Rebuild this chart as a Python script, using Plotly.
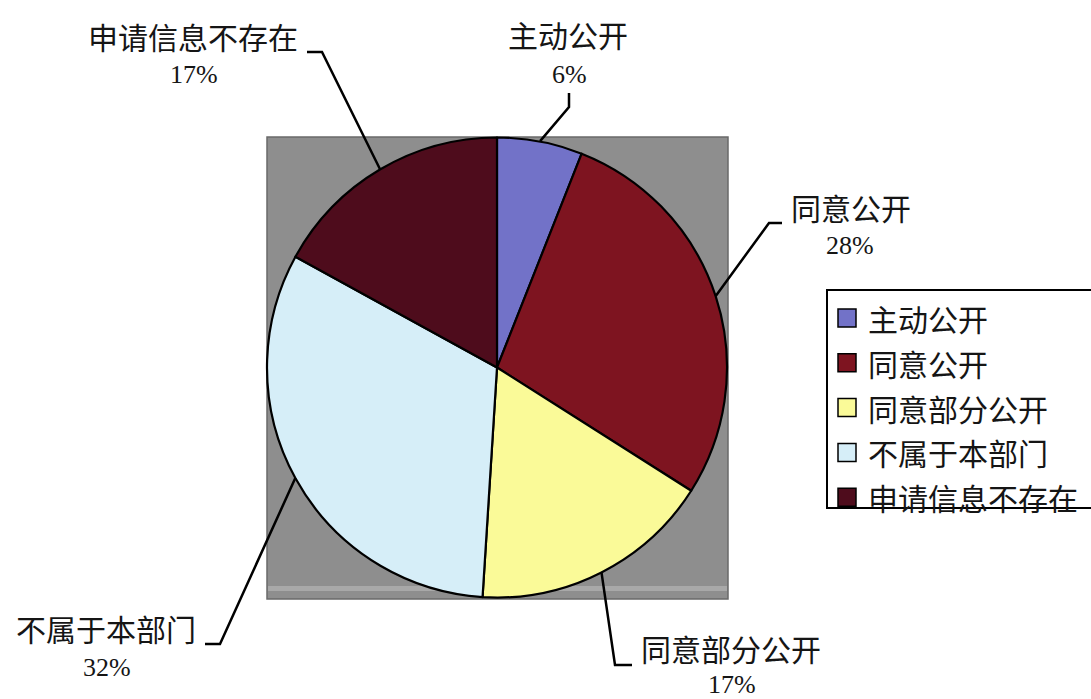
import math
import plotly.graph_objects as go

# ---------------- data ----------------
categories = ["主动公开", "同意公开", "同意部分公开", "不属于本部门", "申请信息不存在"]
values = [6, 28, 17, 32, 17]
colors = ["#7272C8", "#7E1420", "#FAFA98", "#D6EEF8", "#4E0C1C"]

W, H = 1091, 699
CX, CY, R = 497, 367, 230


def px(x):
    return x / W


def py(y):
    return 1 - y / H


fig = go.Figure()
fig.add_trace(go.Pie(
    labels=categories,
    values=values,
    sort=False,
    direction="clockwise",
    rotation=0,
    textinfo="none",
    hoverinfo="label+percent",
    showlegend=False,
    marker=dict(colors=colors, line=dict(color="black", width=2.2)),
    domain=dict(x=[px(CX - R), px(CX + R)], y=[py(CY + R + 1), py(CY - R)]),
))

shapes = []
# gray plot area behind the pie
shapes.append(dict(type="rect", xref="paper", yref="paper", layer="below",
                   x0=px(267), x1=px(728), y0=py(599), y1=py(137),
                   fillcolor="#8E8E8E", line=dict(color="#6A6A6A", width=1.5)))
shapes.append(dict(type="rect", xref="paper", yref="paper", layer="below",
                   x0=px(268), x1=px(727), y0=py(591), y1=py(586),
                   fillcolor="#A8A8A8", line=dict(width=0)))

# label positions (name centre, percent centre) and leader elbows (tick end, elbow)
label_pos = {
    "主动公开": ((568, 34), (569, 74), (569, 93), (569, 107)),
    "同意公开": ((851, 207), (850, 245), (782, 223), (769, 223)),
    "同意部分公开": ((731, 648), (732, 684), (632, 665), (615, 665)),
    "不属于本部门": ((106, 628), (107, 667), (205, 644), (220, 644)),
    "申请信息不存在": ((193, 36), (194, 75), (307, 52), (322, 52)),
}

total = sum(values)
cum = 0
annotations = []
for cat, v in zip(categories, values):
    mid = (cum + v / 2) / total
    cum += v
    th = mid * 2 * math.pi
    ex = CX + R * math.sin(th)
    ey = CY - R * math.cos(th)
    (nx, ny), (qx, qy), (tx, ty), (bx, by) = label_pos[cat]
    path = f"M {px(tx)},{py(ty)} L {px(bx)},{py(by)} L {px(ex)},{py(ey)}"
    shapes.append(dict(type="path", xref="paper", yref="paper", path=path,
                       line=dict(color="black", width=2.5)))
    annotations.append(dict(x=px(nx), y=py(ny), xref="paper", yref="paper",
                            text=cat, showarrow=False, xanchor="center", yanchor="middle",
                            font=dict(family="Noto Sans CJK SC", size=30, color="#151515")))
    annotations.append(dict(x=px(qx), y=py(qy), xref="paper", yref="paper",
                            text=f"{round(v / total * 100)}%", showarrow=False,
                            xanchor="center", yanchor="middle",
                            font=dict(family="Liberation Serif", size=26, color="#151515")))

# legend box (drawn manually)
shapes.append(dict(type="rect", xref="paper", yref="paper",
                   x0=px(827), x1=px(1110), y0=py(508), y1=py(290),
                   fillcolor="white", line=dict(color="black", width=2)))
row_y0, row_dy = 318, 44.8
for i, (cat, col) in enumerate(zip(categories, colors)):
    yc = row_y0 + i * row_dy
    shapes.append(dict(type="rect", xref="paper", yref="paper",
                       x0=px(838), x1=px(856), y0=py(yc + 9), y1=py(yc - 9),
                       fillcolor=col, line=dict(color="black", width=1.5)))
    annotations.append(dict(x=px(866), y=py(yc), xref="paper", yref="paper",
                            text=cat, showarrow=False, xanchor="left", yanchor="middle",
                            font=dict(family="Noto Sans CJK SC", size=30, color="#151515")))

fig.update_layout(
    width=W, height=H,
    margin=dict(l=0, r=0, t=0, b=0, autoexpand=False),
    paper_bgcolor="white",
    plot_bgcolor="white",
    shapes=shapes,
    annotations=annotations,
    showlegend=False,
)

fig.write_html("out.html")
